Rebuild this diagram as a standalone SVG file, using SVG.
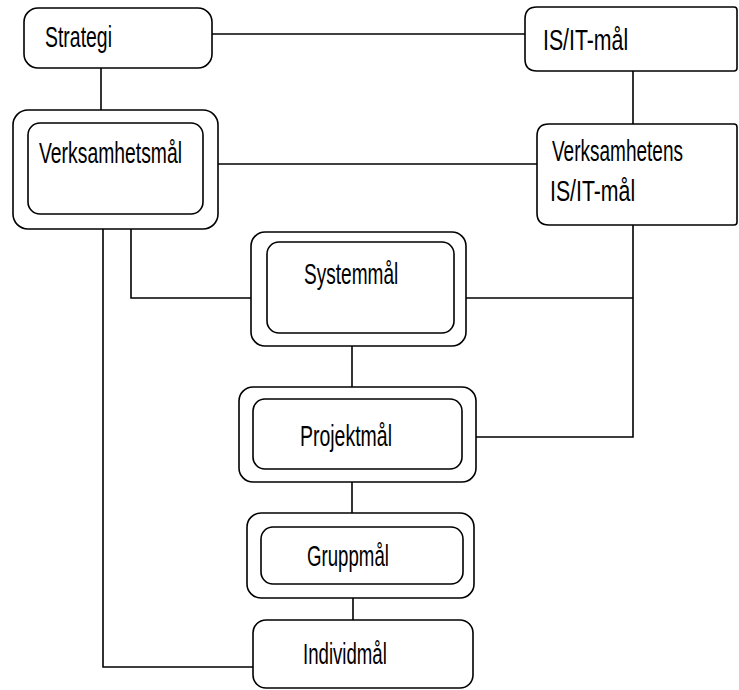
<svg xmlns="http://www.w3.org/2000/svg" width="739" height="690" viewBox="0 0 739 690">
<style>
.box{fill:#fff;stroke:#000;stroke-width:1.6}
.ln{fill:none;stroke:#000;stroke-width:1.6}
.t{font-family:"Liberation Sans","DejaVu Sans",sans-serif;font-size:30px;fill:#000}
</style>
<rect width="739" height="690" fill="#fff"/>
<g id="connectors">
<path class="ln" d="M212 34H525"/>
<path class="ln" d="M101 68V110"/>
<path class="ln" d="M218 164H537"/>
<path class="ln" d="M633 71V124"/>
<path class="ln" d="M633 225V437H476"/>
<path class="ln" d="M466 298H633"/>
<path class="ln" d="M131 229V298H251"/>
<path class="ln" d="M103 229V667H253"/>
<path class="ln" d="M352 346V387"/>
<path class="ln" d="M352 482V513"/>
<path class="ln" d="M353 598V620"/>
</g>
<g id="strategi">
<rect class="box" x="24" y="8" width="188" height="60" rx="14"/>
<text class="t" transform="translate(45 47) scale(0.65 1)" textLength="103" lengthAdjust="spacingAndGlyphs">Strategi</text>
</g>
<g id="isit">
<path class="box" d="M537 7H734Q737 7 737 10V68Q737 71 734 71H537Q525 71 525 59V19Q525 7 537 7Z"/>
<text class="t" transform="translate(543 50) scale(0.65 1)" textLength="131" lengthAdjust="spacingAndGlyphs">IS/IT-mål</text>
</g>
<g id="verksamhetsmal">
<rect class="box" x="13" y="110" width="205" height="119" rx="15"/>
<rect class="box" x="28" y="123" width="175" height="91" rx="12"/>
<text class="t" transform="translate(39 163) scale(0.65 1)" textLength="220" lengthAdjust="spacingAndGlyphs">Verksamhetsmål</text>
</g>
<g id="verksamhetens">
<path class="box" d="M549 124H734Q737 124 737 127V222Q737 225 734 225H549Q537 225 537 213V136Q537 124 549 124Z"/>
<text class="t" transform="translate(552 161) scale(0.65 1)" textLength="201.5" lengthAdjust="spacingAndGlyphs">Verksamhetens</text>
<text class="t" transform="translate(550 201) scale(0.65 1)" textLength="131" lengthAdjust="spacingAndGlyphs">IS/IT-mål</text>
</g>
<g id="systemmal">
<rect class="box" x="251" y="232" width="215" height="114" rx="14"/>
<rect class="box" x="267" y="242" width="187" height="91" rx="12"/>
<text class="t" transform="translate(304 284) scale(0.65 1)" textLength="145" lengthAdjust="spacingAndGlyphs">Systemmål</text>
</g>
<g id="projektmal">
<rect class="box" x="239" y="387" width="237" height="95" rx="14"/>
<rect class="box" x="253" y="399" width="209" height="70" rx="12"/>
<text class="t" transform="translate(300 446) scale(0.65 1)" textLength="141.5" lengthAdjust="spacingAndGlyphs">Projektmål</text>
</g>
<g id="gruppmal">
<rect class="box" x="247" y="513" width="227" height="85" rx="14"/>
<rect class="box" x="261" y="527" width="202" height="57" rx="12"/>
<text class="t" transform="translate(307 566) scale(0.65 1)" textLength="126" lengthAdjust="spacingAndGlyphs">Gruppmål</text>
</g>
<g id="individmal">
<rect class="box" x="253" y="620" width="220" height="68" rx="13"/>
<text class="t" transform="translate(303 664) scale(0.65 1)" textLength="129" lengthAdjust="spacingAndGlyphs">Individmål</text>
</g>
</svg>
